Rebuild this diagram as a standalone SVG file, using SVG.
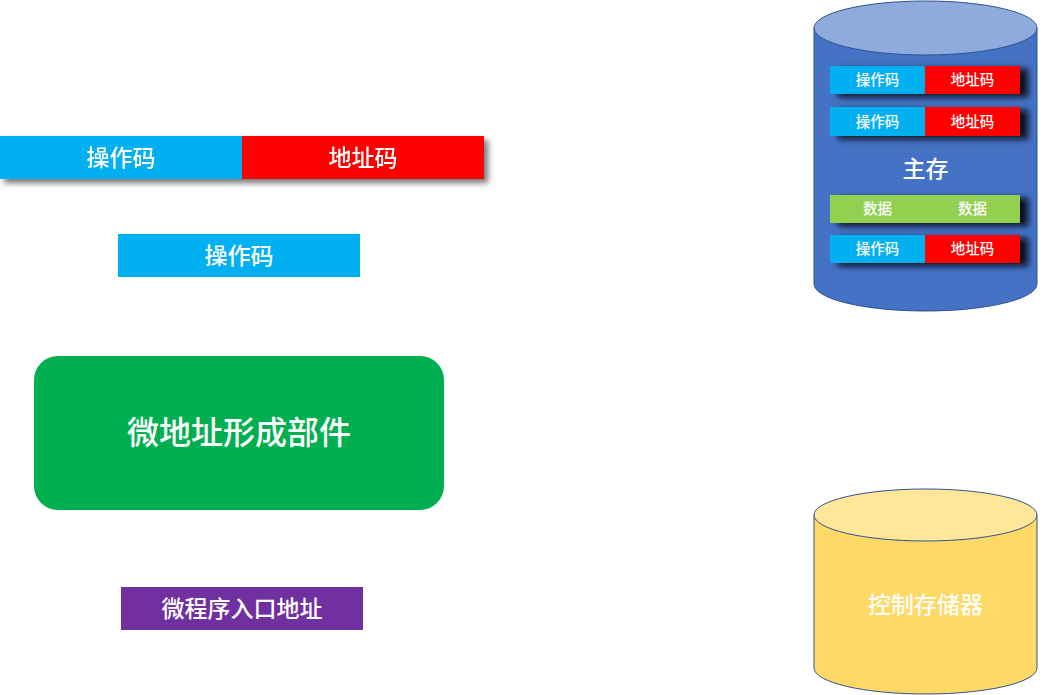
<svg xmlns="http://www.w3.org/2000/svg" width="1052" height="695" viewBox="0 0 1052 695">
<defs>
<filter id="sh" x="-10%" y="-50%" width="130%" height="250%">
<feDropShadow dx="4" dy="4" stdDeviation="3" flood-color="#000" flood-opacity="0.55"/>
</filter>
<filter id="shd" x="-10%" y="-50%" width="130%" height="250%">
<feDropShadow dx="8" dy="3" stdDeviation="3" flood-color="#0a0f1e" flood-opacity="1"/>
</filter>
</defs>
<style>
text{font-family:"Noto Sans CJK SC","Noto Sans CJK JP",sans-serif;fill:#fff;text-anchor:middle;font-weight:500}
.cy{fill:#00B0F0}.rd{fill:#FF0000}.gr{fill:#92D050}
.t15{font-size:14.5px}
.t22{font-size:23px}
</style>
<rect width="1052" height="695" fill="#fff"/>

<g id="instr-bar" filter="url(#sh)">
<rect class="cy" x="0" y="136" width="242" height="43"/>
<rect class="rd" x="242" y="136" width="242" height="43"/>
<text x="121" y="165.5" class="t22">操作码</text>
<text x="363" y="165.5" class="t22">地址码</text>
</g>

<g id="opcode">
<rect class="cy" x="118" y="234" width="242" height="43"/>
<text x="239" y="263.5" class="t22">操作码</text>
</g>

<g id="micro-addr-unit">
<rect x="34" y="356" width="410" height="154" rx="24" fill="#00B050"/>
<text x="239" y="444" font-size="32px" font-weight="bold">微地址形成部件</text>
</g>

<g id="entry-addr">
<rect x="121" y="587" width="242" height="43" fill="#7030A0"/>
<text x="242" y="616.5" class="t22">微程序入口地址</text>
</g>

<g id="main-memory">
<path d="M814,28 V284 A111.5,27 0 0 0 1037,284 V28 Z" fill="#4472C4" stroke="#2F528F" stroke-width="1"/>
<ellipse cx="925.5" cy="28" rx="111.5" ry="27" fill="#8FAADC" stroke="#2F528F" stroke-width="1"/>
<text x="925.5" y="177" font-size="23px">主存</text>
<g filter="url(#shd)">
<rect class="cy" x="830" y="66" width="95" height="28"/>
<rect class="rd" x="925" y="66" width="95" height="28"/>
</g>
<text x="877.5" y="85" class="t15">操作码</text>
<text x="972.5" y="85" class="t15">地址码</text>
<g filter="url(#shd)">
<rect class="cy" x="830" y="107" width="95" height="29"/>
<rect class="rd" x="925" y="107" width="95" height="29"/>
</g>
<text x="877.5" y="126.5" class="t15">操作码</text>
<text x="972.5" y="126.5" class="t15">地址码</text>
<g filter="url(#shd)">
<rect class="gr" x="830" y="195" width="190" height="28"/>
</g>
<text x="877.5" y="214" class="t15">数据</text>
<text x="972.5" y="214" class="t15">数据</text>
<g filter="url(#shd)">
<rect class="cy" x="830" y="235" width="95" height="28"/>
<rect class="rd" x="925" y="235" width="95" height="28"/>
</g>
<text x="877.5" y="254" class="t15">操作码</text>
<text x="972.5" y="254" class="t15">地址码</text>
</g>

<g id="control-store">
<path d="M814,515 V668 A111.5,26 0 0 0 1037,668 V515 Z" fill="#FFD966" stroke="#2F528F" stroke-width="1"/>
<ellipse cx="925.5" cy="515" rx="111.5" ry="26" fill="#FFE699" stroke="#2F528F" stroke-width="1"/>
<text x="925.5" y="612.5" font-size="23px">控制存储器</text>
</g>

<g id="connectors"></g>
</svg>
